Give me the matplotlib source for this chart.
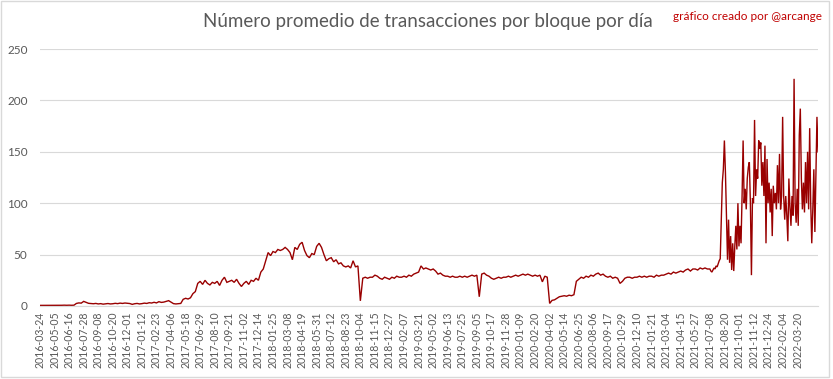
import numpy as np
import pandas as pd
import matplotlib
matplotlib.use("Agg")
import matplotlib.pyplot as plt
import matplotlib.dates as mdates
from matplotlib.patches import Rectangle

plt.rcParams['font.family'] = ['Lato', 'DejaVu Sans']

# ---------------- data ----------------
title = "Número promedio de transacciones por bloque por día"
credit = "gráfico creado por @arcange"

# weekly samples from 2016-03-24 (6 per 42-day label interval)
weekly_start = "2016-03-24"
weekly_values = [
    0.6, 0.6, 0.7, 0.6, 0.6, 0.7,
    0.7, 0.6, 0.7, 0.7, 0.8, 0.7,
    0.8, 0.7, 0.8, 2.5, 3.0, 2.8,
    4.5, 3.5, 2.6, 2.4, 2.2, 2.5,
    2.0, 2.3, 1.8, 2.1, 2.4, 2.0,
    2.2, 2.6, 2.3, 2.8, 2.5, 2.9,
    2.6, 2.4, 1.6, 2.2, 2.5, 2.0,
    2.3, 2.8, 2.5, 3.2, 2.9, 3.6,
    3.0, 4.2, 3.5, 3.8, 4.5, 5.2,
    3.8, 2.3, 2.0, 2.2, 2.5, 6.5,
    7.5, 6.8, 8.0, 12, 14, 22,
    24, 21, 25, 22, 20.5, 23,
    22, 24, 20, 25, 28, 23,
    24, 25, 23, 26, 22, 19,
    22, 24, 21, 25, 24, 27,
    25, 33, 36, 44, 52, 49,
    53, 52, 55, 54, 55, 57,
    55, 52, 45, 57, 55, 60,
    62, 54, 49, 47, 51, 50,
    58, 61, 57, 50, 44, 46,
    47, 43, 45, 41, 42, 39,
    38, 39, 37, 44, 38, 39,
    5, 27, 28, 27, 28, 28,
    30, 29, 27, 26, 28, 27,
    26, 28, 27, 29, 28, 28,
    29, 28, 30, 29, 31, 32,
    33, 39, 36, 37, 36, 35,
    36, 34, 31, 32, 30, 29,
    29, 28, 29, 28, 28, 29,
    28, 29, 28, 29, 30, 29,
    30, 9, 31, 32, 30, 29,
    27, 26, 27, 28, 27, 28,
    28, 29, 28, 29, 30, 29,
    30, 31, 30, 31, 30, 29,
    30, 29, 30, 23.5, 29, 28,
    2.5, 5.5, 6, 7.5, 9, 9.5,
    10, 9.5, 10.5, 10, 11, 24,
    26, 28, 27, 29, 28, 30,
    29, 31, 32, 30, 31, 29,
    28, 29, 27, 28, 27, 22,
    24, 27, 28, 28, 27, 28,
    28, 29, 28, 29, 28, 29,
    29, 28, 30, 29, 30, 30,
    31, 32, 31, 33, 32, 33,
    34, 33, 35, 36, 34, 36,
    36, 35, 37, 36, 37, 36,
]

# samples every 3 days from 2021-07-08 (volatile period)
tri_start = "2021-07-08"
tri_values = [
    36, 34, 33, 35, 37, 36, 39, 38, 41, 44,
    46, 85, 120, 133, 161, 130, 88, 45, 84, 42,
    68, 35, 61, 34, 58, 78, 55, 100, 58, 78,
    61, 107, 161, 100, 114, 94, 124, 135, 140, 100,
    30, 105, 100, 181, 107, 133, 124, 161, 153, 159,
    117, 140, 107, 156, 61, 143, 100, 120, 91, 114,
    68, 117, 100, 110, 94, 137, 100, 148, 94, 107,
    184, 107, 84, 107, 88, 63, 124, 97, 78, 107,
    88, 221, 100, 81, 114, 78, 166, 192, 124, 94,
    120, 91, 140, 100, 150, 94, 173, 100, 61, 94,
    133, 72, 127, 184, 150,
]

tick_labels = [
    "2016-03-24", "2016-05-05", "2016-06-16", "2016-07-28", "2016-09-08",
    "2016-10-20", "2016-12-01", "2017-01-12", "2017-02-23", "2017-04-06",
    "2017-05-18", "2017-06-29", "2017-08-10", "2017-09-21", "2017-11-02",
    "2017-12-14", "2018-01-25", "2018-03-08", "2018-04-19", "2018-05-31",
    "2018-07-12", "2018-08-23", "2018-10-04", "2018-11-15", "2018-12-27",
    "2019-02-07", "2019-03-21", "2019-05-02", "2019-06-13", "2019-07-25",
    "2019-09-05", "2019-10-17", "2019-11-28", "2020-01-09", "2020-02-20",
    "2020-04-02", "2020-05-14", "2020-06-25", "2020-08-06", "2020-09-17",
    "2020-10-29", "2020-12-10", "2021-01-21", "2021-03-04", "2021-04-15",
    "2021-05-27", "2021-07-08", "2021-08-20", "2021-10-01", "2021-11-12",
    "2021-12-24", "2022-02-04", "2022-03-20",
]
y_ticks = [0, 50, 100, 150, 200, 250]

# ---------------- build series ----------------
d1 = pd.date_range(weekly_start, periods=len(weekly_values), freq="7D")
d2 = pd.date_range(tri_start, periods=len(tri_values), freq="3D")
dates = np.concatenate([d1.values, d2.values])
values = np.array(weekly_values + tri_values, dtype=float)

# ---------------- figure ----------------
W, H = 833, 379
fig = plt.figure(figsize=(W / 100, H / 100), dpi=100)
ax = fig.add_axes([40 / W, 1 - 306 / H, (818 - 40) / W, (306 - 49) / H])

ax.plot(dates, values, color="#990000", lw=1.0, solid_joinstyle="miter")

ax.set_ylim(0, 250)
ax.set_xlim(dates[0], dates[-1])
ax.set_yticks(y_ticks)
ax.set_yticklabels([str(v) for v in y_ticks])
tick_dates = pd.to_datetime(tick_labels)
ax.set_xticks(tick_dates)
ax.set_xticklabels(tick_labels, rotation=90)

ax.grid(axis="y", color="#D9D9D9", lw=0.8)
ax.set_axisbelow(True)
for s in ["top", "right", "left"]:
    ax.spines[s].set_visible(False)
ax.spines["bottom"].set_color("#D9D9D9")
ax.spines["bottom"].set_linewidth(0.8)
ax.tick_params(axis="both", length=0, colors="#595959")
ax.tick_params(axis="y", labelsize=8.5, pad=9)
ax.tick_params(axis="x", labelsize=7.6, pad=4)

fig.text(428 / W, 1 - 22 / H, title, ha="center", va="center",
         fontsize=13.5, color="#595959")
fig.text(822 / W, 1 - 16 / H, credit, ha="right", va="center",
         fontsize=8.5, color="#C00000")

fig.patches.append(Rectangle((1 / W, 2 / H), 828 / W, 376 / H,
                             transform=fig.transFigure, fill=False,
                             edgecolor="#D9D9D9", lw=1.0))

fig.savefig("out.png", dpi=100)
